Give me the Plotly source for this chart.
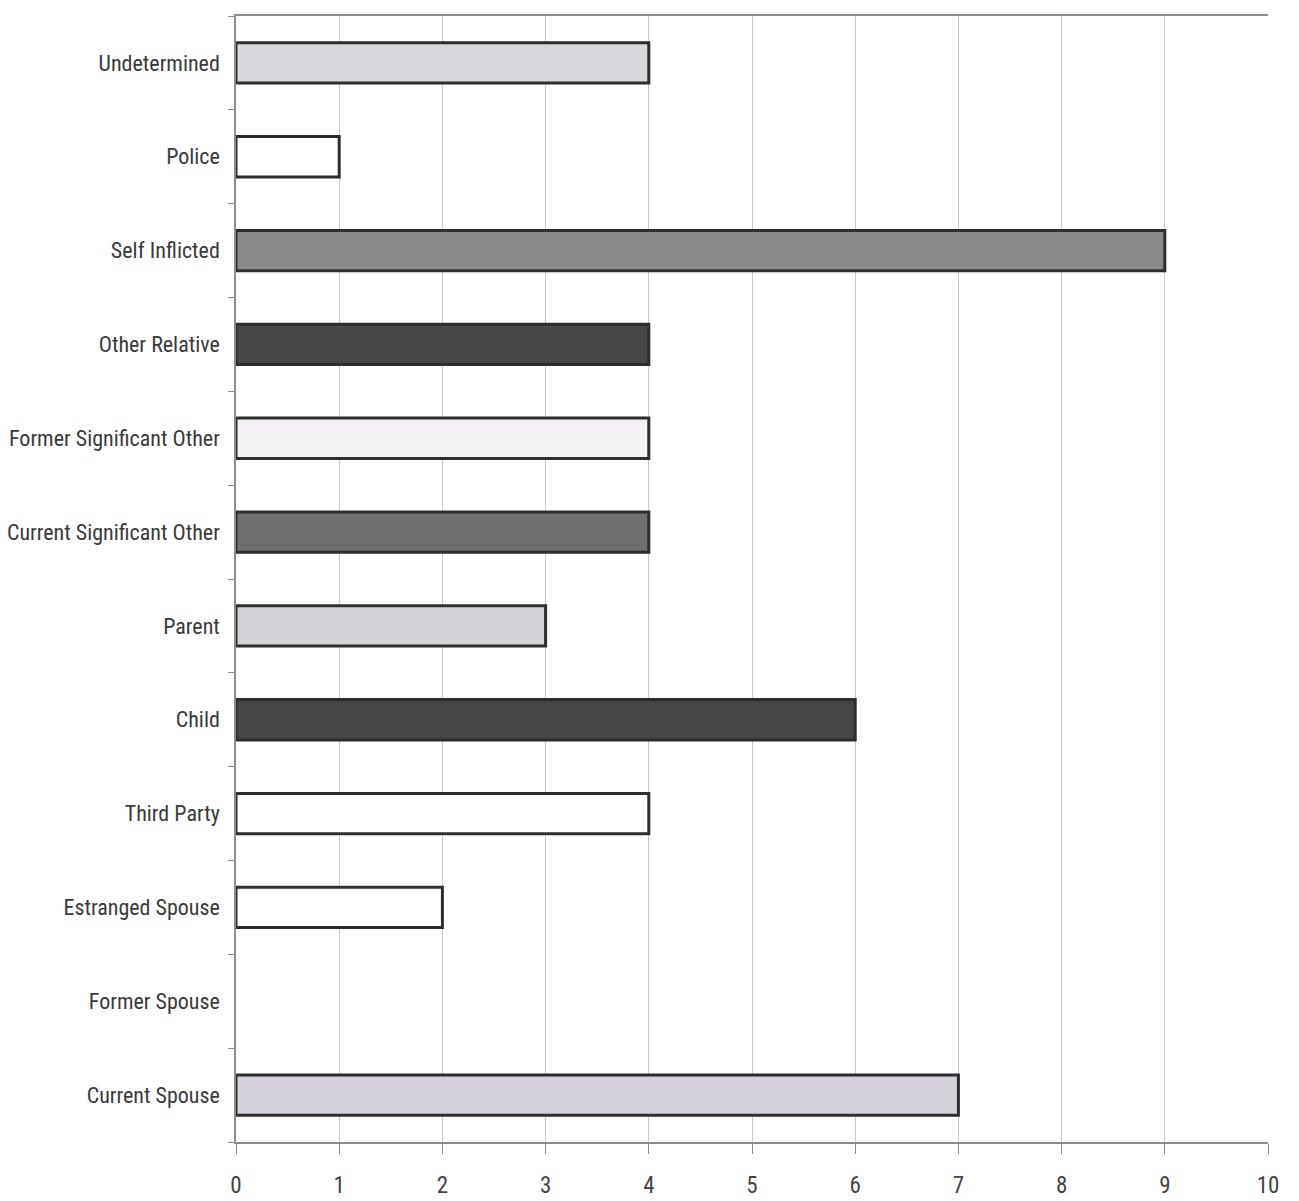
import plotly.graph_objects as go

# Relationship categories, listed bottom to top
categories = [
    "Current Spouse", "Former Spouse", "Estranged Spouse", "Third Party",
    "Child", "Parent", "Current Significant Other", "Former Significant Other",
    "Other Relative", "Self Inflicted", "Police", "Undetermined",
]
counts = [7, 0, 2, 4, 6, 3, 4, 4, 4, 9, 1, 4]
bar_fills = [
    "#d4d1da", "#ffffff", "#ffffff", "#ffffff",
    "#464646", "#d3d0d6", "#6f6e70", "#f3f1f3",
    "#474747", "#8b898c", "#ffffff", "#d9d7db",
]
x_ticks = list(range(0, 11))

label_font = "Liberation Sans Narrow, Arial Narrow, Roboto Condensed, sans-serif"

# empty categories get no outline so no sliver is drawn at zero
outline_widths = [3 if v > 0 else 0 for v in counts]

fig = go.Figure(
    go.Bar(
        y=categories,
        x=counts,
        orientation="h",
        width=0.43,
        marker=dict(color=bar_fills, line=dict(color="#2e2e2e", width=outline_widths)),
        hoverinfo="skip",
    )
)

fig.update_layout(
    width=1299,
    height=1201,
    margin=dict(l=236, r=31, t=16, b=59),
    paper_bgcolor="white",
    plot_bgcolor="white",
    showlegend=False,
    font=dict(family=label_font, color="#3a3a3a", size=22),
)

fig.update_xaxes(
    range=[0, 10],
    tickvals=x_ticks,
    showgrid=True,
    gridcolor="#c9c9c9",
    gridwidth=1,
    showline=True,
    linecolor="#8c8c8c",
    linewidth=1.5,
    mirror=True,
    ticks="outside",
    ticklen=10,
    tickcolor="#8c8c8c",
    ticklabelstandoff=12,
    zeroline=False,
    automargin=False,
    tickfont=dict(size=23, color="#444444"),
)

fig.update_yaxes(
    categoryorder="array",
    categoryarray=categories,
    showgrid=False,
    showline=True,
    linecolor="#8c8c8c",
    linewidth=1.5,
    ticks="outside",
    tickson="boundaries",
    ticklen=6,
    tickcolor="#8c8c8c",
    ticklabelstandoff=10,
    automargin=False,
    tickfont=dict(size=22, color="#3a3a3a"),
)

fig.write_html("out.html")
